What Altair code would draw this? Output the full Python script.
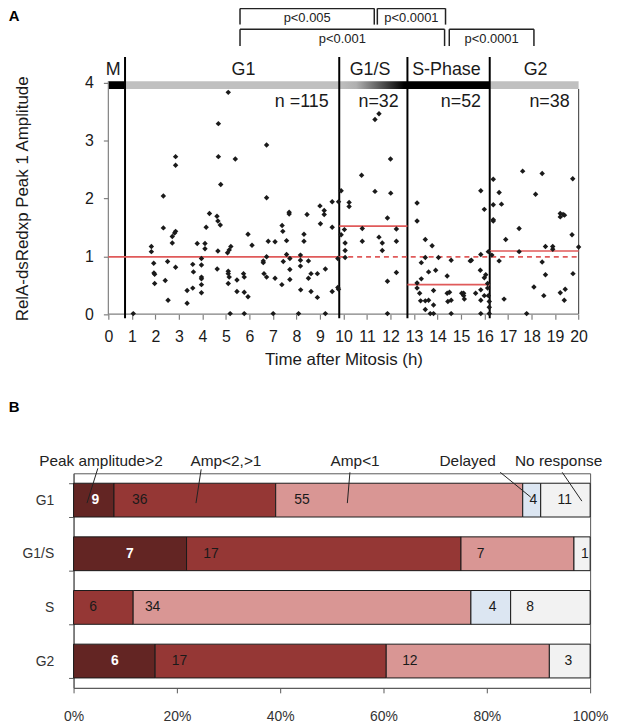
import altair as alt
import pandas as pd

FONT = "Liberation Sans, Arial, sans-serif"
INK = "#1a1a1a"
GRAY = "#808080"
RED = "#e05a5a"

# ================= Panel A data (time after mitosis, peak 1 amplitude) =================
g1_time = [1.06, 1.83, 1.83, 1.93, 1.94, 1.97, 1.97, 2.34, 2.34, 2.42, 2.52, 2.54,
           2.72, 2.72, 2.86, 2.86, 2.86, 2.82, 2.86, 3.35, 3.35, 3.59, 3.59, 3.62, 3.78,
           3.96, 3.96, 3.96, 3.96, 3.96, 3.96, 4.11, 4.11, 4.16, 4.30,
           4.62, 4.66, 4.76, 4.68, 4.68, 4.78, 4.66, 4.63,
           5.10, 5.21, 5.14, 5.07, 5.10, 5.10, 5.14, 5.10, 5.18,
           5.40, 5.47, 5.47, 5.75, 5.78, 5.78, 5.94, 5.94, 6.11, 5.78,
           6.59, 6.59, 6.62, 6.73, 6.73, 6.80, 6.73, 6.73,
           7.09, 7.09, 7.01, 7.39, 7.42, 7.38, 7.44, 7.58, 7.58,
           7.72, 7.72, 7.72, 7.69, 7.69,
           8.09, 8.17, 8.17, 8.17, 8.18, 8.32, 8.32, 8.45,
           8.51, 8.51, 8.62, 8.62, 8.89, 8.89,
           9.00, 9.02, 9.18, 9.18, 9.23, 9.23,
           9.52, 9.52, 9.52]
g1_amp = [0.01, 1.17, 1.08, 0.88, 0.71, 0.69, 0.53, 2.04, 1.49, 0.58, 0.91, 0.24,
          1.34, 1.23, 2.72, 2.57, 1.43, 1.40, 0.81, 0.41, 0.19, 0.45, 0.86, 0.73, 1.22,
          0.96, 0.85, 0.64, 0.61, 0.51, 0.37, 1.22, 1.13, 1.50, 1.74,
          1.69, 1.61, 1.54, 3.29, 2.72, 2.24, 1.09, 0.78,
          3.83, 1.17, 1.11, 1.06, 0.74, 0.70, 0.64, 0.53, 0.01,
          2.68, 0.59, 0.39, 0.70, 0.64, 0.38, 0.30, 1.38, 1.19, 0.01,
          0.92, 0.89, 0.70, 0.64, 0.99, 1.26, 2.92, 2.01,
          1.25, 0.62, 0.01, 1.53, 1.43, 0.51, 0.91, 1.27, 1.03,
          0.96, 0.77, 0.60, 1.76, 1.73,
          0.01, 1.02, 0.93, 0.83, 0.42, 1.38, 1.26, 1.72,
          0.92, 0.62, 0.70, 0.39, 0.29, 0.70,
          1.87, 1.56, 1.79, 1.72, 0.78, 0.01,
          1.94, 1.50, 0.39]

g1s_time = [9.79, 9.90, 10.24, 10.24, 10.77, 11.34, 12.01, 11.87, 9.90, 10.04,
            10.07, 10.07, 10.07, 9.76, 9.76, 9.79, 10.80, 10.80, 11.51, 11.65,
            11.65, 12.25, 12.25, 11.87, 12.25, 11.87, 11.34, 11.51, 12.00]
g1s_amp = [1.94, 2.13, 1.93, 1.86, 2.40, 2.12, 2.09, 1.66, 1.37, 1.46,
           1.23, 1.10, 0.98, 0.96, 0.46, 0.43, 1.48, 1.26, 1.33, 1.23,
           1.10, 1.47, 1.26, 0.57, 0.72, 0.01, 3.36, 3.46, 2.68]

s_time = [13.13, 13.13, 13.48, 13.77, 13.48, 13.31, 14.04, 13.62, 13.92, 14.58,
          14.41, 13.31, 13.13, 13.13, 13.83, 13.24, 13.28, 13.48, 13.62, 13.83,
          13.48, 13.69, 13.83, 14.41, 14.51, 14.44, 14.58, 14.58, 15.03, 15.11,
          15.11, 15.14, 15.39, 15.44, 15.62, 15.84, 15.99, 15.84, 15.82, 16.05,
          15.99, 15.84, 15.84, 15.84, 15.99, 16.13, 16.13, 16.16, 16.20, 16.20,
          16.20]
s_amp = [1.92, 1.61, 1.29, 1.18, 0.98, 0.89, 0.98, 0.73, 0.76, 0.93,
         0.66, 0.61, 0.54, 0.45, 0.41, 0.36, 0.23, 0.23, 0.24, 0.16,
         0.08, 0.01, 0.01, 0.36, 0.38, 0.22, 0.24, 0.01, 0.36, 0.36,
         0.32, 0.26, 0.92, 0.93, 0.36, 2.13, 1.81, 1.03, 0.76, 0.68,
         0.63, 0.42, 0.24, 0.01, 0.32, 0.53, 0.45, 0.32, 0.22, 0.12,
         0.01]

g2_time = [16.16, 16.37, 16.62, 16.37, 16.72, 16.37, 16.37, 16.90, 16.31, 16.62,
           16.83, 17.62, 17.47, 17.47, 17.79, 18.17, 18.45, 18.45, 18.59, 18.59,
           18.10, 18.52, 18.90, 18.90, 19.22, 19.22, 19.34, 19.40, 19.22, 19.43,
           19.39, 19.75, 19.72, 19.76, 20.00]
g2_amp = [1.08, 2.33, 2.10, 1.89, 1.90, 1.63, 1.61, 1.29, 1.02, 0.92,
          0.26, 2.47, 1.48, 1.08, 0.01, 2.07, 2.43, 0.90, 1.17, 0.68,
          0.47, 0.32, 1.17, 1.12, 1.74, 1.68, 1.72, 1.71, 0.37, 0.43,
          0.24, 2.34, 1.37, 0.70, 1.16]

# cell-cycle phases (hours)
phase_names = ["M", "G1", "G1/S", "S-Phase", "G2"]
phase_start = [0.0, 0.71, 9.82, 12.72, 16.22]
phase_end = [0.71, 9.82, 12.72, 16.22, 20.0]
phase_fill = ["#000000", "#c0c0c0", "gradient", "#000000", "#c0c0c0"]
phase_label_x = [0.21, 5.75, 11.13, 14.38, 18.17]
phase_bounds = [0.71, 9.82, 12.72, 16.22]

n_text = ["n =115", "n=32", "n=52", "n=38"]
n_right_x = [9.37, 12.35, 15.85, 19.62]

# phase means (red lines)
mean_start = [0.0, 9.82, 12.72, 16.22]
mean_end = [9.82, 12.72, 16.22, 20.0]
mean_amp = [0.99, 1.52, 0.51, 1.09]
ref_amp = 0.99

# significance brackets
br_x1 = [5.6, 11.44, 5.6, 14.5]
br_x2 = [11.31, 14.34, 14.3, 18.1]
br_top = [5.28, 5.28, 4.92, 4.92]
br_foot = [5.0, 5.0, 4.63, 4.63]
br_text = ["p<0.005", "p<0.0001", "p<0.001", "p<0.0001"]

# layout constants (data units)
X_MIN = -1.479          # room on the left so both panels share one plot origin
Y_MAX = 5.28
BAR_LO, BAR_HI = 3.89, 4.02
PHASE_LABEL_Y = 4.22
N_LABEL_Y = 3.66
LINE_LO, LINE_HI = -0.07, 4.44
PX_PER_H = 23.67
PX_PER_AMP = 58.3

# ================= Panel B data =================
rows = ["G1", "G1/S", "S", "G2"]
cats = ["Peak amplitude>2", "Amp<2,>1", "Amp<1", "Delayed", "No response"]
cat_colors = ["#632523", "#953735", "#d99694", "#dce6f2", "#f2f2f2"]
counts_g1 = [9, 36, 55, 4, 11]
counts_g1s = [7, 17, 7, 0, 1]
counts_s = [0, 6, 34, 4, 8]
counts_g2 = [6, 17, 12, 0, 3]
# where each count label sits (percent)
lab_g1 = [4.2, 12.8, 44.2, 89.0, 95.1]
lab_g1s = [10.9, 26.6, 78.8, 0.0, 99.0]
lab_s = [0.0, 3.8, 15.3, 81.1, 88.4]
lab_g2 = [8.0, 20.5, 65.1, 0.0, 95.8]

ann_x = [5.3, 29.5, 54.5, 76.3, 93.9]
lead_x1 = [4.7, 24.7, 53.5, 82.6, 94.6]
lead_x2 = [2.6, 23.7, 53.0, 88.5, 98.4]
lead_dy1 = [-32, -31, -28, -28, -28]
lead_dy2 = [3, 3, 3, -3, 1]

# ================= Panel A chart =================
WA = (20 - X_MIN) * PX_PER_H
HA = Y_MAX * PX_PER_AMP
Y_AXIS_SHIFT = -X_MIN * PX_PER_H

xs = alt.Scale(domain=[X_MIN, 20], nice=False, zero=False)
ys = alt.Scale(domain=[0, Y_MAX], nice=False, zero=False)

x_axis = alt.Axis(values=list(range(21)), title="Time after Mitosis (h)", grid=False,
                  domain=False, tickColor=GRAY, tickSize=5, tickWidth=1.2, labelPadding=10,
                  labelFontSize=16, labelColor=INK, labelFlush=False, labelOverlap=False,
                  titleFontSize=17, titleFontWeight="normal", titleColor=INK, titlePadding=7,
                  titleX=Y_AXIS_SHIFT + 10 * PX_PER_H)
y_axis = alt.Axis(values=[0, 1, 2, 3, 4], title="RelA-dsRedxp Peak 1 Amplitude", grid=False,
                  domain=False, tickColor=GRAY, tickSize=5, tickWidth=1.2, labelPadding=10,
                  labelFontSize=16, labelColor=INK, titleFontSize=17,
                  titleFontWeight="normal", titleColor=INK, titlePadding=53,
                  titleY=HA - 2 * PX_PER_AMP, offset=-Y_AXIS_SHIFT)


def xq(f):
    return alt.X(f, type="quantitative", scale=xs, axis=x_axis)


def yq(f):
    return alt.Y(f, type="quantitative", scale=ys, axis=y_axis)


pts = pd.DataFrame({"t": g1_time + g1s_time + s_time + g2_time,
                    "amp": g1_amp + g1s_amp + s_amp + g2_amp})
points = alt.Chart(pts).mark_point(shape="diamond", filled=True, size=30,
                                   color=INK, opacity=1).encode(x=xq("t"), y=yq("amp"))

ph = pd.DataFrame({"name": phase_names, "start": phase_start, "end": phase_end,
                   "fill": phase_fill, "lx": phase_label_x,
                   "lo": BAR_LO, "hi": BAR_HI, "ly": PHASE_LABEL_Y})
solid_bar = alt.Chart(ph[ph["fill"] != "gradient"]).mark_rect().encode(
    x=xq("start"), x2="end", y=yq("lo"), y2="hi",
    color=alt.Color("fill:N", scale=None))
grad = alt.Gradient(gradient="linear",
                    stops=[alt.GradientStop(color="#c0c0c0", offset=0),
                           alt.GradientStop(color="#b0b0b0", offset=0.25),
                           alt.GradientStop(color="#000000", offset=0.95)],
                    x1=0, x2=1, y1=0, y2=0)
grad_bar = alt.Chart(ph[ph["fill"] == "gradient"]).mark_rect(color=grad).encode(
    x=xq("start"), x2="end", y=yq("lo"), y2="hi")
phase_text = alt.Chart(ph).mark_text(fontSize=18, color=INK, baseline="middle").encode(
    x=xq("lx"), y=yq("ly"), text="name:N")

bnd = pd.DataFrame({"b": phase_bounds, "lo": LINE_LO, "hi": LINE_HI})
bound_lines = alt.Chart(bnd).mark_rule(color="#000000", strokeWidth=2).encode(
    x=xq("b"), y=yq("lo"), y2="hi")

# axis lines: left (0 -> 4), right edge at 20, and the time baseline
frame = pd.DataFrame({"x": [0.0, 20.0], "lo": [0.0, 0.0],
                      "hi": [BAR_HI, BAR_LO], "c": [GRAY, "#555555"]})
frame_lines = alt.Chart(frame).mark_rule(strokeWidth=1.2).encode(
    x=xq("x"), y=yq("lo"), y2="hi", color=alt.Color("c:N", scale=None))
base = pd.DataFrame({"x": [0.0], "x2": [20.0], "y": [0.0]})
base_line = alt.Chart(base).mark_rule(strokeWidth=1.2, color=GRAY).encode(
    x=xq("x"), x2="x2", y=yq("y"))

means = pd.DataFrame({"start": mean_start, "end": mean_end, "amp": mean_amp})
mean_lines = alt.Chart(means).mark_rule(color=RED, strokeWidth=1.6).encode(
    x=xq("start"), x2="end", y=yq("amp"))
refdf = pd.DataFrame({"start": [mean_end[0]], "end": [mean_end[-1]], "amp": [ref_amp]})
ref_line = alt.Chart(refdf).mark_rule(color=RED, strokeWidth=1.6, strokeDash=[5, 4]).encode(
    x=xq("start"), x2="end", y=yq("amp"))

ndf = pd.DataFrame({"txt": n_text, "x": n_right_x, "y": N_LABEL_Y})
n_labels = alt.Chart(ndf).mark_text(fontSize=18, color=INK, align="right",
                                    baseline="middle").encode(
    x=xq("x"), y=yq("y"), text="txt:N")

segs = []
for a, b, top, foot in zip(br_x1, br_x2, br_top, br_foot):
    segs.append({"x1": a, "x2": a, "y1": foot, "y2": top})
    segs.append({"x1": a, "x2": b, "y1": top, "y2": top})
    segs.append({"x1": b, "x2": b, "y1": top, "y2": foot})
brackets = alt.Chart(pd.DataFrame(segs)).mark_rule(color="#222222", strokeWidth=1.5).encode(
    x=xq("x1"), x2="x2", y=yq("y1"), y2="y2")
pdf = pd.DataFrame({"txt": br_text,
                    "x": [(a + b) / 2 for a, b in zip(br_x1, br_x2)],
                    "y": [t - 0.17 for t in br_top]})
p_labels = alt.Chart(pdf).mark_text(fontSize=13, color="#222222", baseline="middle").encode(
    x=xq("x"), y=yq("y"), text="txt:N")

tagA = alt.Chart(pd.DataFrame({"txt": ["A"], "x": [-4.24], "y": [5.15]})).mark_text(
    fontSize=15, fontWeight="bold", align="left", baseline="middle", color="#000000").encode(
    x=xq("x"), y=yq("y"), text="txt:N")

panel_a = alt.layer(solid_bar, grad_bar, frame_lines, base_line, bound_lines, ref_line,
                    mean_lines, points, phase_text, n_labels, brackets, p_labels,
                    tagA).properties(width=WA, height=HA)

# ================= Panel B chart =================
seg_rows = []
lab_rows = []
for row, cnts, labs in [("G1", counts_g1, lab_g1), ("G1/S", counts_g1s, lab_g1s),
                        ("S", counts_s, lab_s), ("G2", counts_g2, lab_g2)]:
    tot = sum(cnts)
    cum = 0
    for i, c in enumerate(cnts):
        if c > 0:
            seg_rows.append({"row": row, "cat": cats[i], "start": cum / tot * 100,
                             "end": (cum + c) / tot * 100})
            lab_rows.append({"row": row, "n": c, "lx": labs[i],
                             "fw": "bold" if i == 0 else "normal"})
        cum += c
seg = pd.DataFrame(seg_rows)
labdf = pd.DataFrame(lab_rows)

xb = alt.Scale(domain=[0, 100], nice=False, zero=False)
yb = alt.Scale(domain=rows, paddingInner=0.37, paddingOuter=0.185)
BCOL = "#595959"
xb_axis = alt.Axis(values=[0, 20, 40, 60, 80, 100], labelExpr="datum.value + '%'",
                   title=None, grid=False, tickSize=5, tickColor=BCOL, domainColor=BCOL,
                   labelPadding=17, labelFontSize=14, labelFlush=False, labelColor="#333333")
yb_axis = alt.Axis(title=None, tickBand="extent", tickSize=5, tickColor=BCOL,
                   domainColor=BCOL, labelPadding=15, labelFontSize=14,
                   labelColor="#333333", grid=False)


def xbq(f):
    return alt.X(f, type="quantitative", scale=xb, axis=xb_axis)


def ybn(f):
    return alt.Y(f, type="nominal", scale=yb, axis=yb_axis)


bars_b = alt.Chart(seg).mark_bar(stroke=INK, strokeWidth=1).encode(
    y=ybn("row"), x=xbq("start"), x2="end",
    color=alt.Color("cat:N", scale=alt.Scale(domain=cats, range=cat_colors), legend=None))

num_white = alt.Chart(labdf[labdf["fw"] == "bold"]).mark_text(
    fontSize=14, baseline="middle", fontWeight="bold", color="#ffffff").encode(
    x=xbq("lx"), y=ybn("row"), text="n:Q")
num_dark = alt.Chart(labdf[labdf["fw"] == "normal"]).mark_text(
    fontSize=14, baseline="middle", color="#1a1a1a").encode(
    x=xbq("lx"), y=ybn("row"), text="n:Q")

anndf = pd.DataFrame({"txt": cats, "x": ann_x, "row": "G1"})
ann_text = alt.Chart(anndf).mark_text(fontSize=15.5, color="#222222", baseline="middle",
                                      dy=-39).encode(
    x=xbq("x"), y=ybn("row"), text="txt:N")

leaders = []
for a, b, d1, d2 in zip(lead_x1, lead_x2, lead_dy1, lead_dy2):
    ldf = pd.DataFrame({"x1": [a], "x2": [b], "row": ["G1"]})
    leaders.append(alt.Chart(ldf).mark_rule(color="#222222", strokeWidth=1,
                                            yOffset=d1, y2Offset=d2).encode(
        x=xbq("x1"), x2="x2", y=ybn("row"), y2="row:N"))

tagB = alt.Chart(pd.DataFrame({"txt": ["B"], "x": [-12.56], "row": ["G1"]})).mark_text(
    fontSize=15, fontWeight="bold", align="left", baseline="middle", color="#000000",
    dy=-94).encode(x=xbq("x"), y=ybn("row"), text="txt:N")

panel_b = alt.layer(bars_b, num_white, num_dark, ann_text, *leaders, tagB).properties(
    width=520, height=216, view=alt.ViewBackground(stroke=BCOL, strokeWidth=1))

chart = alt.vconcat(panel_a, panel_b, spacing=30).properties(
    padding={"left": 0, "top": -4, "right": 0, "bottom": 0}).configure(
    font=FONT).configure_view(stroke="transparent")

chart.save("out.html", embed_options={"renderer": "svg", "actions": False})
